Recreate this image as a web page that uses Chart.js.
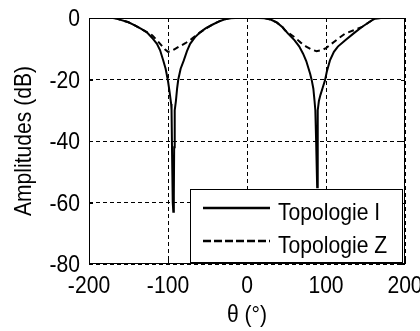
<!DOCTYPE html>
<html>
<head>
<meta charset="utf-8">
<script src="https://cdn.jsdelivr.net/npm/chart.js@4/dist/chart.umd.min.js"></script>
<style>
  html, body { margin: 0; padding: 0; background: #fff; }
  canvas { display: block; }
</style>
</head>
<body>
<canvas id="c" width="420" height="331"></canvas>
<script>
// Radiation pattern, amplitude in dB versus angle theta (degrees)
const seriesNames = ['Topologie I', 'Topologie Z'];

const thetaI = [-180, -170, -165, -160, -150, -142, -135, -127, -120, -114, -110, -106, -103, -100, -98, -96, -95.5, -94.8, -94, -93.3,
  -92.6, -92.2, -91.5, -90, -88.5, -87, -84, -80, -76, -72, -66, -59, -52, -44, -36, -28, -22, -15, 0, 15,
  23, 30, 38, 45, 52, 60, 66, 71, 75, 78, 80, 82, 84, 85.5, 86.5, 87.5, 88.8, 89.3, 89.8, 91,
  93, 96, 98.7, 101, 105, 110, 115, 124, 135, 145, 152, 158, 162, 170, 180];
const ampI = [0, 0, -0.2, -0.6, -1.4, -2.4, -3.4, -4.6, -6.5, -8.4, -10.5, -13.8, -16.5, -20.5, -24, -28, -30, -45, -60, -63,
  -58, -42, -30, -27, -23, -20, -16.5, -13.8, -10.8, -8.4, -6.3, -4.6, -3.3, -2.2, -1.2, -0.4, -0.1, 0, 0, 0,
  -0.1, -0.5, -1.5, -3, -5.1, -7.2, -9.2, -11.6, -14, -16.5, -18.2, -20.3, -23, -27, -30, -40, -55, -42, -30, -27,
  -25, -22.5, -20.3, -17.5, -13.8, -11, -9.3, -7.3, -5, -3, -1.8, -0.8, -0.2, 0, 0];

const thetaZ = [-180, -170, -165, -160, -150, -142, -135, -127, -120, -114, -108, -104, -100, -96, -92, -86, -78, -70, -62, -52,
  -44, -36, -28, -22, -15, 0, 15, 23, 30, 38, 45, 48, 55, 61, 68, 75, 82, 88, 94, 100,
  107, 115, 124, 135, 145, 152, 158, 162, 170, 180];
const ampZ = [0, 0, -0.2, -0.6, -1.4, -2.4, -3.4, -4.6, -5.6, -7.2, -9.0, -10.2, -11, -10.8, -10.2, -9.3, -8.2, -6.8, -5.2, -3.4,
  -2.2, -1.2, -0.4, -0.1, 0, 0, 0, -0.1, -0.5, -1.5, -3, -4.0, -5.3, -6.4, -8, -9.3, -10.3, -10.8, -10.5, -9.8,
  -8.4, -6.8, -5.1, -4.0, -3, -1.8, -0.8, -0.2, 0, 0];

const xTicks = [-200, -100, 0, 100, 200];
const yTicks = [-80, -60, -40, -20, 0];
const xTitle = 'θ (°)';
const yTitle = 'Amplitudes (dB)';

// condensed Helvetica-like lettering: regular sans squeezed horizontally
const FONT = "24px 'Liberation Sans', Arial, sans-serif";
const SQUEEZE = 0.88;

function pts(xs, ys) { return xs.map((x, i) => ({ x, y: ys[i] })); }

function text(ctx, str, x, y, align, rot) {
  ctx.save();
  ctx.translate(x, y);
  if (rot) ctx.rotate(rot);
  ctx.scale(SQUEEZE, 1);
  ctx.font = FONT;
  ctx.fillStyle = '#000';
  ctx.textAlign = align;
  ctx.textBaseline = 'alphabetic';
  ctx.fillText(str, 0, 0);
  ctx.restore();
}

// Box frame, inward ticks, tick labels, axis titles and in-plot legend
const framePlugin = {
  id: 'frame',
  afterDraw(chart) {
    const { ctx, chartArea: a, scales: { x, y } } = chart;
    ctx.save();
    ctx.strokeStyle = '#000';
    ctx.lineWidth = 1;
    ctx.setLineDash([]);
    ctx.strokeRect(Math.round(a.left) + 0.5, Math.round(a.top) + 0.5,
      Math.round(a.right - a.left) - 1, Math.round(a.bottom - a.top) - 1);
    const tl = 4;
    ctx.beginPath();
    xTicks.forEach(v => {
      const px = Math.round(x.getPixelForValue(v)) + 0.5;
      ctx.moveTo(px, a.bottom); ctx.lineTo(px, a.bottom - tl);
      ctx.moveTo(px, a.top); ctx.lineTo(px, a.top + tl);
    });
    yTicks.forEach(v => {
      const py = Math.round(y.getPixelForValue(v)) + 0.5;
      ctx.moveTo(a.left, py); ctx.lineTo(a.left + tl, py);
      ctx.moveTo(a.right, py); ctx.lineTo(a.right - tl, py);
    });
    ctx.stroke();

    // tick labels
    xTicks.forEach(v => text(ctx, String(v), x.getPixelForValue(v), a.bottom + 29, 'center'));
    yTicks.forEach(v => text(ctx, String(v), a.left - 9, y.getPixelForValue(v) + 8, 'right'));

    // axis titles
    text(ctx, xTitle, (a.left + a.right) / 2, a.bottom + 58, 'center');
    text(ctx, yTitle, a.left - 58, (a.top + a.bottom) / 2, 'center', -Math.PI / 2);

    // legend box, anchored in the lower-right corner of the axes
    const lw = 212, lh = 75;
    const lx = Math.round(a.right) - 3 - lw, ly = Math.round(a.bottom) - lh;
    ctx.fillStyle = '#fff';
    ctx.fillRect(lx, ly, lw, lh);
    ctx.lineWidth = 1;
    ctx.strokeRect(lx + 0.5, ly + 0.5, lw, lh - 1);
    ctx.beginPath();
    ctx.lineWidth = 2;
    ctx.moveTo(lx, ly + lh - 1); ctx.lineTo(lx + lw + 1, ly + lh - 1);
    ctx.stroke();
    chart.data.datasets.forEach((ds, i) => {
      const ry = ly + 19 + i * 33;
      ctx.beginPath();
      ctx.lineWidth = 2.5;
      ctx.setLineDash(ds.borderDash ? [8, 3] : []);
      ctx.moveTo(lx + 13, ry); ctx.lineTo(lx + 80, ry);
      ctx.stroke();
      ctx.setLineDash([]);
      text(ctx, ds.label, lx + 88, ry + 12, 'left');
    });
    ctx.restore();
  }
};

new Chart(document.getElementById('c'), {
  type: 'line',
  data: {
    datasets: [
      { label: seriesNames[0], data: pts(thetaI, ampI), borderColor: '#000', borderWidth: 2, pointRadius: 0, tension: 0 },
      { label: seriesNames[1], data: pts(thetaZ, ampZ), borderColor: '#000', borderWidth: 2, borderDash: [6, 4], pointRadius: 0, tension: 0 }
    ]
  },
  options: {
    responsive: false,
    animation: false,
    devicePixelRatio: 1,
    layout: { padding: { left: 0, right: 15, top: 18, bottom: 0 } },
    plugins: { legend: { display: false }, tooltip: { enabled: false } },
    scales: {
      x: {
        type: 'linear', min: -200, max: 200,
        afterBuildTicks(s) { s.ticks = xTicks.map(v => ({ value: v })); },
        afterFit(s) { s.height = 67; s.paddingLeft = 0; s.paddingRight = 0; },
        grid: { color: '#000', lineWidth: 1, drawTicks: false },
        border: { display: false, dash: [4, 3] },
        ticks: { display: false }
      },
      y: {
        type: 'linear', min: -80, max: 0,
        afterBuildTicks(s) { s.ticks = yTicks.map(v => ({ value: v })); },
        afterFit(s) { s.width = 89; s.paddingTop = 0; s.paddingBottom = 0; },
        grid: { color: '#000', lineWidth: 1, drawTicks: false },
        border: { display: false, dash: [4, 3] },
        ticks: { display: false }
      }
    }
  },
  plugins: [framePlugin]
});
</script>
</body>
</html>
